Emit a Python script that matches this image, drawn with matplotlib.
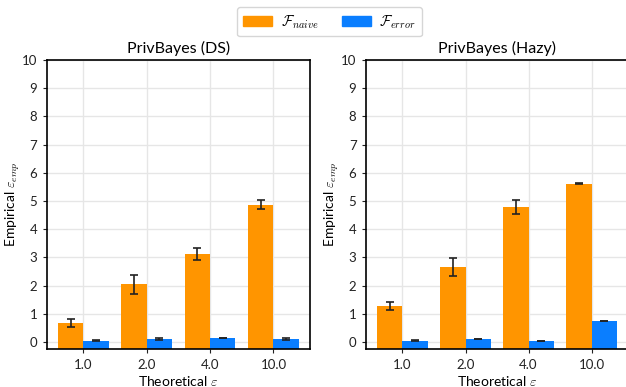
import numpy as np
import matplotlib
matplotlib.use('Agg')
import matplotlib.pyplot as plt
from matplotlib.patches import Patch

plt.rcParams['font.family'] = ['Lato', 'DejaVu Sans']
plt.rcParams['mathtext.fontset'] = 'cm'

# theoretical epsilon values on the x axis
eps_labels = ['1.0', '2.0', '4.0', '10.0']

# PrivBayes (DS)
ds_naive = [0.68, 2.05, 3.12, 4.87]
ds_naive_err = [0.15, 0.33, 0.22, 0.17]
ds_error = [0.05, 0.10, 0.14, 0.12]
ds_error_err = [0.02, 0.03, 0.01, 0.04]

# PrivBayes (Hazy)
hazy_naive = [1.28, 2.65, 4.80, 5.62]
hazy_naive_err = [0.15, 0.32, 0.25, 0.01]
hazy_error = [0.05, 0.11, 0.04, 0.74]
hazy_error_err = [0.01, 0.01, 0.01, 0.01]

titles = ['PrivBayes (DS)', 'PrivBayes (Hazy)']
c_naive = '#ff9500'
c_error = '#0a7eff'

fig = plt.figure(figsize=(6.26, 3.87), dpi=100)
ax1 = fig.add_axes([0.075, 0.098, 0.420, 0.747])
ax2 = fig.add_axes([0.585, 0.098, 0.418, 0.747])

panels = [(ax1, ds_naive, ds_naive_err, ds_error, ds_error_err),
          (ax2, hazy_naive, hazy_naive_err, hazy_error, hazy_error_err)]

x = np.arange(len(eps_labels))
w = 0.4
base = -1.0  # bars run down past the bottom of the axis
for (ax, nv, nv_err, er, er_err), title in zip(panels, titles):
    ax.set_axisbelow(True)
    ax.grid(True, color='#e6e6e6', linewidth=1.0)
    ax.bar(x - w / 2, np.array(nv) - base, w, bottom=base, color=c_naive, zorder=2)
    ax.bar(x + w / 2, np.array(er) - base, w, bottom=base, color=c_error, zorder=2)
    ax.errorbar(x - w / 2, nv, yerr=nv_err, fmt='none', ecolor='#222222',
                elinewidth=1.2, capsize=3, capthick=1.2, zorder=3)
    ax.errorbar(x + w / 2, er, yerr=er_err, fmt='none', ecolor='#222222',
                elinewidth=1.2, capsize=3, capthick=1.2, zorder=3)
    ax.set_xticks(x)
    ax.set_xticklabels(eps_labels)
    ax.set_yticks(range(0, 11))
    ax.set_xlim(-0.575, 3.575)
    ax.set_ylim(-0.25, 10)
    ax.tick_params(axis='x', length=3, pad=4, labelsize=9.5, colors='#222222')
    ax.tick_params(axis='y', length=3, pad=4, labelsize=9.5, colors='#222222')
    for s in ax.spines.values():
        s.set_linewidth(1.2)
    ax.set_xlabel(r'Theoretical $\varepsilon$', fontsize=10, labelpad=2)
    ax.set_ylabel(r'Empirical $\varepsilon_{emp}$', fontsize=10)
    ax.yaxis.set_label_coords(-0.095, 0.5)
    ax.set_title(title, fontsize=11.5, pad=5)

handles = [Patch(color=c_naive), Patch(color=c_error)]
fig.legend(handles, [r'$\mathcal{F}_{naive}$', r'$\mathcal{F}_{error}$'],
           loc='upper center', bbox_to_anchor=(0.526, 1.0), ncol=2,
           fontsize=10.5, handlelength=2.0, handleheight=0.75, handletextpad=0.6,
           columnspacing=1.6, frameon=True, fancybox=True, edgecolor='#cccccc')

fig.savefig('out.png', dpi=100)
